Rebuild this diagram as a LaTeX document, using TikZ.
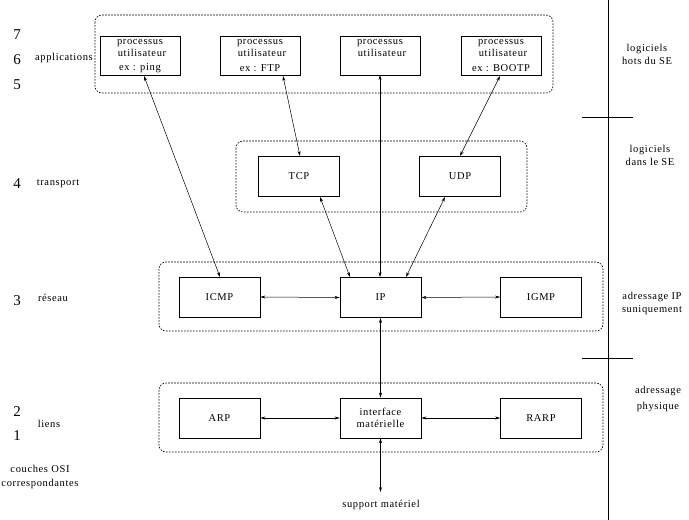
\documentclass[tikz,border=0pt]{standalone}
\usepackage{fontspec}
\setmainfont{Liberation Serif}
\newfontfamily\lblfont[LetterSpace=6]{Liberation Serif}
\usetikzlibrary{arrows.meta}
\begin{document}
\begin{tikzpicture}[x=1pt,y=-1pt,
  grp/.style={draw,dash pattern=on 1.6pt off 1.4pt,rounded corners=7pt,line width=0.6pt},
  bx/.style={draw,line width=0.7pt,minimum width=81pt,minimum height=40pt,inner sep=0pt,font=\lblfont\fontsize{10.5}{11}\selectfont},
  pbx/.style={draw,line width=0.7pt,minimum width=80pt,minimum height=39pt,inner sep=0pt},
  lbl/.style={font=\lblfont\fontsize{10.5}{11}\selectfont,inner sep=0pt,align=center},
  num/.style={font=\fontsize{15}{15}\selectfont,inner sep=0pt},
  con/.style={line width=0.5pt,{Stealth[length=5pt,width=3pt]}-{Stealth[length=5pt,width=3pt]}},
  sep/.style={line width=0.7pt}]
\useasboundingbox (0,0) rectangle (689,520);
% groups
\draw[grp] (95,15) rectangle (553,93);
\draw[grp] (236,141) rectangle (527,212);
\draw[grp] (159,262) rectangle (603,331);
\draw[grp] (159,383) rectangle (603,452);
% application boxes
\node[pbx] (p1) at (140,55.5) {};
\node[pbx] (p2) at (260,55.5) {};
\node[pbx] (p3) at (380,55.5) {};
\node[pbx] (p4) at (501,55.5) {};
\foreach \n/\x in {p1/140,p2/260,p3/380,p4/501}{
  \node[lbl] (\n a) at (\x,43) {processus};
  \node[lbl] (\n b) at (\x+2,53) {utilisateur};
}
\node[lbl] (p1c) at (140,68) {ex : ping};
\node[lbl] (p2c) at (260,68) {ex : FTP};
\node[lbl] (p4c) at (501,68) {ex : BOOTP};
% transport
\node[bx] (tcp) at (299,176.5) {TCP};
\node[bx] (udp) at (460,176.5) {UDP};
% network
\node[bx] (icmp) at (219.5,297) {ICMP};
\node[bx] (ip) at (380.5,297.5) {IP};
\node[bx] (igmp) at (541,297) {IGMP};
% link
\node[bx] (arp) at (219.5,418) {ARP};
\node[bx,align=center] (itf) at (380.5,418) {interface\\[1pt]matérielle};
\node[bx] (rarp) at (541,418) {RARP};
\node[lbl] (sup) at (381,505) {support matériel};
\coordinate (supt) at (380.5,492);
% connectors
\draw[con] (144,76) -- (220,277);
\draw[con] (283,76) -- (300,156);
\draw[con] (380,75) -- (380,277);
\draw[con] (500,76) -- (460,156);
\draw[con] (320,197) -- (350,277);
\draw[con] (445,197) -- (406,277);
\draw[con] (icmp.east) -- (ip.west);
\draw[con] (ip.east) -- (igmp.west);
\draw[con] (ip.south) -- (itf.north);
\draw[con] (arp.east) -- (itf.west);
\draw[con] (itf.east) -- (rarp.west);
\draw[con] (itf.south) -- (supt);
% separators
\draw[sep] (608,0) -- (608,520);
\draw[sep] (582,117) -- (633,117);
\draw[sep] (582,358) -- (633,358);
% right labels
\node[lbl] (r1) at (647,54) {logiciels\\[2pt]hots du SE};
\node[lbl] (r2) at (650,155) {logiciels\\[2pt]dans le SE};
\node[lbl] (r3) at (652,303) {adressage IP\\[2pt]suniquement};
\node[lbl] (r4) at (658,399) {adressage\\[5pt]physique};
% left labels
\node[num] (n7) at (17,35) {7};
\node[num] (n6) at (17,60) {6};
\node[num] (n5) at (17,85) {5};
\node[lbl] (la) at (64,58) {applications};
\node[num] (n4) at (17,184) {4};
\node[lbl] (lt) at (58,184) {transport};
\node[num] (n3) at (17,301) {3};
\node[lbl] (lr) at (53,298) {réseau};
\node[num] (n2) at (17,412) {2};
\node[num] (n1) at (17,436) {1};
\node[lbl] (ll) at (49,424) {liens};
\node[lbl] (lc) at (40,477) {couches OSI\\[3pt]correspondantes};
\end{tikzpicture}
\end{document}
